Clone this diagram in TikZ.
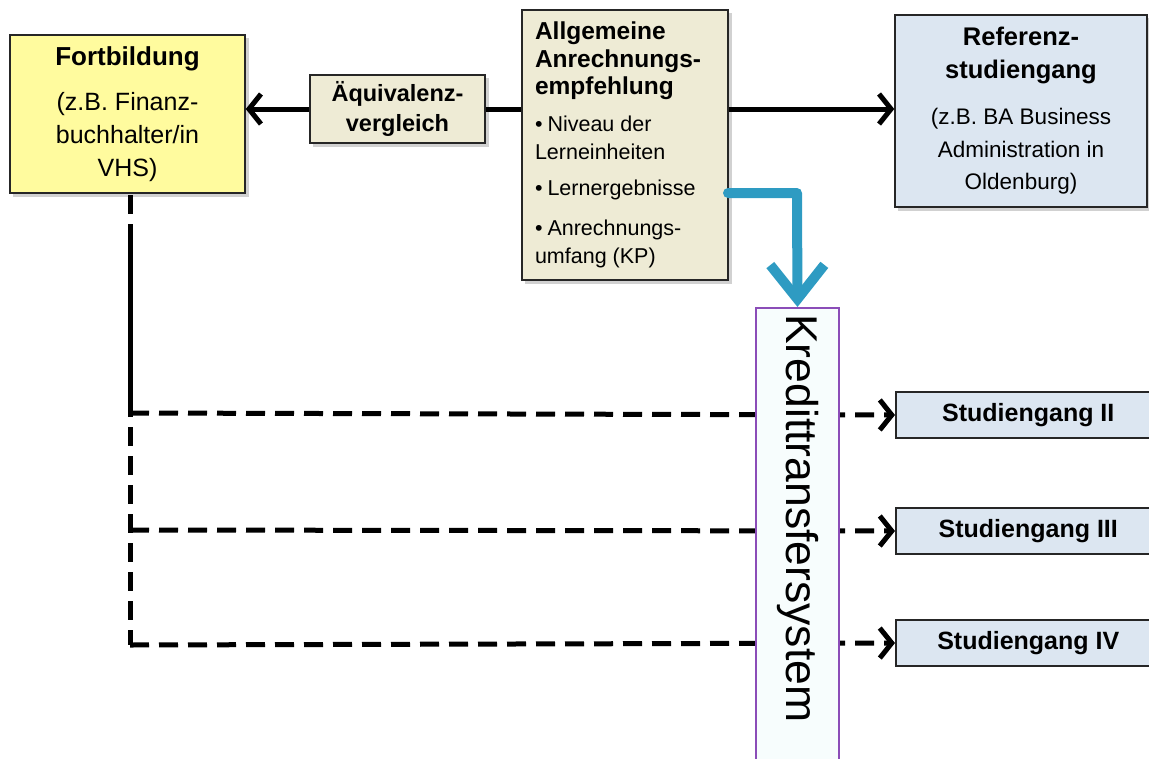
\documentclass[tikz,border=0pt]{standalone}
\usepackage{fontspec}
\setmainfont{Liberation Sans}
\usetikzlibrary{arrows.meta}
\definecolor{fyellow}{HTML}{FFFB9E}
\definecolor{fbeige}{HTML}{EEEBD5}
\definecolor{fblue}{HTML}{DCE6F1}
\definecolor{kfill}{HTML}{F7FDFD}
\definecolor{kborder}{HTML}{8B4DB8}
\definecolor{arrblue}{HTML}{2E9BC2}
\begin{document}
\begin{tikzpicture}[x=1pt,y=-1pt,
  box/.style={draw=black!85,line width=1.5pt,inner sep=0pt,align=center},
  shadowbox/.style={fill=black!18,draw=none},
  solidarrow/.style={line width=5pt,-{Straight Barb[length=12pt,width=30pt]}},
  solidline/.style={line width=5pt},
  dline/.style={line width=5pt,dash pattern=on 19pt off 10pt},
  darrow/.style={line width=5pt,dash pattern=on 19pt off 10pt,-{Straight Barb[length=12pt,width=30pt]}},
  bluearrow/.style={line width=10pt,draw=arrblue,line join=round,line cap=round,-{Straight Barb[length=34pt,width=54pt]}},
  studbox/.style={box,fill=fblue,minimum width=265pt,minimum height=46pt,
    font=\bfseries\fontsize{25}{28}\selectfont,anchor=west}
]
\useasboundingbox (0,0) rectangle (1149,758);

% shadows
\fill[shadowbox] (13,38) rectangle (249,197);
\fill[shadowbox] (313,78) rectangle (489,147);
\fill[shadowbox] (525,13) rectangle (732,284);
\fill[shadowbox] (898,18) rectangle (1151,211);

% boxes
\node[box,fill=fyellow,minimum width=235pt,minimum height=158pt,
  font=\fontsize{25}{33}\selectfont] (fort) at (127.5,114)
  {{\bfseries\fontsize{26}{33}\selectfont Fortbildung}\\[12pt](z.B. Finanz-\\buchhalter/in\\VHS)};

\node[box,fill=fbeige,minimum width=175pt,minimum height=68pt,
  font=\bfseries\fontsize{23.5}{30}\selectfont] (aeq) at (397.5,109)
  {Äquivalenz-\\vergleich};

\node[box,fill=fbeige,minimum width=206pt,minimum height=270pt,align=left,
  font=\fontsize{21.5}{28}\selectfont] (allg) at (625,145)
  {\begin{minipage}{180pt}\raggedright
   {\bfseries\fontsize{24.5}{27.5}\selectfont Allgemeine\\Anrechnungs-\\empfehlung\par}
   \vspace{9pt}
   \leftskip=14pt\parindent=-14pt
   \textbullet\hspace{5pt}Niveau der\\Lerneinheiten\par
   \vspace{8pt}
   \textbullet\hspace{5pt}Lernergebnisse\par
   \vspace{12pt}
   \textbullet\hspace{5pt}Anrechnungs-\\umfang (KP)\par
   \end{minipage}};

\node[box,fill=fblue,minimum width=252pt,minimum height=192pt,
  font=\fontsize{22.5}{32.5}\selectfont] (ref) at (1021,111)
  {{\bfseries\fontsize{25.5}{31}\selectfont Referenz-}\\{\bfseries\fontsize{25.5}{31}\selectfont studiengang}\\[14pt](z.B. BA Business\\Administration in\\Oldenburg)};

\node[studbox] (s2) at (895,415) {Studiengang II};
\node[studbox] (s3) at (895,531) {Studiengang III};
\node[studbox] (s4) at (895,643) {Studiengang IV};

% coordinates
\coordinate (v0) at (130,195);
\coordinate (vs1) at (130,242);
\coordinate (v1) at (130,413);
\coordinate (v2) at (130,530);
\coordinate (v3) at (130,645);
\coordinate (lern) at (728,193);
\coordinate (bend) at (797,193);

% connectors
\draw[solidarrow] (aeq.west) -- (fort.east |- aeq.west);
\draw[solidline] (aeq.east) -- (allg.west |- aeq.east);
\draw[solidarrow] (allg.east |- aeq.east) -- (ref.west |- aeq.east);

\draw[dline] (v0) -- (v3);
\draw[solidline] (vs1) -- (v1);
\draw[darrow] (v1) -- (s2.west);
\draw[darrow] (v2) -- (s3.west);
\draw[darrow] (v3) -- (s4.west);

% Kredittransfersystem box (on top of dashed lines)
\node[draw=kborder,line width=1.5pt,fill=kfill,minimum width=83pt,minimum height=470pt,
  inner sep=0pt,anchor=north] (kred) at (797.5,307) {};
\node[rotate=-90,font=\fontsize{44.5}{44.5}\selectfont,anchor=west,inner sep=0pt] (kredtext) at (797.5,314) {Kredittransfersystem};

\draw[bluearrow] (lern) -- (bend) -- (kred.north);
\end{tikzpicture}
\end{document}
